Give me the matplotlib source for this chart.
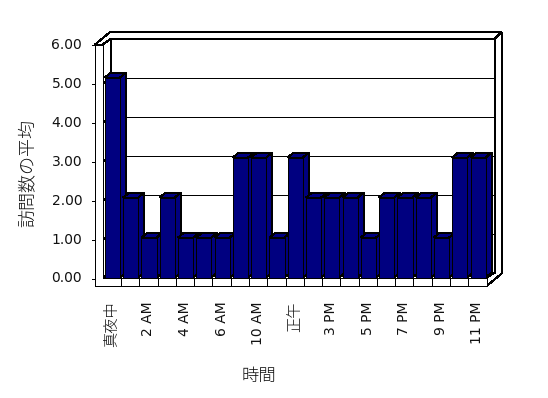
import matplotlib
matplotlib.use('Agg')
import matplotlib.pyplot as plt
from matplotlib.patches import Polygon

# ---------------- data ----------------
categories = ['真夜中', '1 AM', '2 AM', '3 AM', '4 AM', '5 AM', '6 AM', '9 AM',
              '10 AM', '11 AM', '正午', '1 PM', '3 PM', '4 PM', '5 PM', '6 PM',
              '7 PM', '8 PM', '9 PM', '10 PM', '11 PM']
values = [5, 2, 1, 2, 1, 1, 1, 3, 3, 1, 3, 2, 2, 2, 1, 2, 2, 2, 1, 3, 3]
y_ticks = [0, 1, 2, 3, 4, 5, 6]
y_tick_labels = ['0.00', '1.00', '2.00', '3.00', '4.00', '5.00', '6.00']
y_title = '訪問数の平均'
x_title = '時間'

# ---------------- style / geometry ----------------
W, H = 548, 398
BAR_COLOR = '#000080'
LW = 0.72
AA = False
CJK = 'Noto Sans CJK JP'

n = len(categories)
ymax = y_ticks[-1]

fig = plt.figure(figsize=(W / 100, H / 100), dpi=100)
fig.patch.set_facecolor('white')
ax_l, ax_r, ax_b, ax_t = 102.7, 486.6, 277.5, 37.5   # pixel placement of plot box
ax = fig.add_axes([ax_l / W, 1 - ax_b / H, (ax_r - ax_l) / W, (ax_b - ax_t) / H])
ax.set_xlim(0, n)
ax.set_ylim(0, ymax)
for s in ax.spines.values():
    s.set_visible(False)
ax.set_facecolor('none')

# pseudo-3D geometry (data units)
FRONT_SCALE, FRONT_OFF = 0.975, -0.025
BACK_OFF = 0.125
DIN = (0.46, 0.125)     # offset to back wall inner face
DOUT = (0.82, 0.31)     # offset to back wall outer face
WALL_T = 0.42
FLOOR_T = 0.2125
BAR_L, BAR_R = 0.12, 0.95
BD = (0.32, 0.12)       # bar depth offset


def fv(k):
    return FRONT_OFF + FRONT_SCALE * k


def bv(k):
    return BACK_OFF + FRONT_SCALE * k


def poly(pts, z, fc='white'):
    p = Polygon(pts, closed=True, facecolor=fc, edgecolor='black', lw=LW,
                zorder=z, clip_on=False, joinstyle='miter', antialiased=AA)
    ax.add_patch(p)


def line(p0, p1, z):
    ax.plot([p0[0], p1[0]], [p0[1], p1[1]], color='black', lw=LW, zorder=z,
            clip_on=False, solid_capstyle='butt', antialiased=AA)


# back wall
poly([(DIN[0], bv(0)), (DIN[0] + n, bv(0)), (DIN[0] + n, bv(ymax)), (DIN[0], bv(ymax))], 1)
for k in y_ticks[1:-1]:
    line((DIN[0], bv(k)), (DIN[0] + n, bv(k)), 1.1)
# left wall inner side face
poly([(0, 0), (0, fv(ymax)), (DIN[0], bv(ymax)), (DIN[0], bv(0))], 1.2)
for k in y_ticks[1:-1]:
    line((0, fv(k)), (DIN[0], bv(k)), 1.3)
# top slab faces
vout = fv(ymax) + DOUT[1]
poly([(-WALL_T, fv(ymax)), (0, fv(ymax)), (DIN[0], bv(ymax)), (DIN[0] + n, bv(ymax)),
      (DOUT[0] + n, vout), (-WALL_T + DOUT[0], vout)], 1.4)
# right slab faces
poly([(n + DIN[0], bv(ymax)), (n + DOUT[0], vout), (n + DOUT[0], -FLOOR_T + DOUT[1]),
      (n, -FLOOR_T), (n, 0), (n + DIN[0], bv(0))], 1.4)

# bars
bars = ax.bar([i + BAR_L for i in range(n)], values, width=BAR_R - BAR_L, align='edge',
              color=BAR_COLOR, edgecolor='black', linewidth=LW)
for i, (b, v) in enumerate(zip(bars, values)):
    z = 3 + 0.01 * i
    b.set_zorder(z + 0.005)
    b.set_antialiased(AA)
    xl, xr = i + BAR_L, i + BAR_R
    poly([(xl, v), (xr, v), (xr + BD[0], v + BD[1]), (xl + BD[0], v + BD[1])], z, BAR_COLOR)
    poly([(xr, 0), (xr, v), (xr + BD[0], v + BD[1]), (xr + BD[0], BD[1])], z, BAR_COLOR)

# front L-shaped frame (left wall front + floor front)
poly([(-WALL_T, fv(ymax)), (-WALL_T, -FLOOR_T), (n, -FLOOR_T), (n, 0), (0, 0), (0, fv(ymax))], 5)
for i in range(1, n):
    line((i, 0), (i, -FLOOR_T), 5.1)

# y axis ticks and labels on front edge
for k, lab in zip(y_ticks, y_tick_labels):
    line((-WALL_T - 0.16, fv(k)), (-WALL_T, fv(k)), 5.1)
    ax.text(-WALL_T - 0.7, fv(k), lab, ha='right', va='center', fontsize=10,
            family='DejaVu Sans', color='#111111')

# x tick labels
ax.set_yticks([])
ax.set_xticks([i + 0.5 for i in range(0, n, 2)])
ax.set_xticklabels(categories[::2], rotation=90)
ax.tick_params(axis='x', length=0, pad=17, labelcolor='#111111')
for t in ax.get_xticklabels():
    txt = t.get_text()
    if any(ord(ch) > 0x2000 for ch in txt):
        t.set_fontfamily(CJK)
        t.set_fontsize(11)
        t.set_fontweight('light')
    else:
        t.set_fontfamily('DejaVu Sans')
        t.set_fontsize(10)

fig.text(28 / W, 1 - 173 / H, y_title, rotation=90, ha='center', va='center',
         fontsize=13, family=CJK, fontweight='light', color='#111111')
fig.text(259 / W, 1 - 376 / H, x_title, ha='center', va='center',
         fontsize=12.5, family=CJK, fontweight='light', color='#111111')

fig.savefig('out.png', dpi=100, facecolor='white')
